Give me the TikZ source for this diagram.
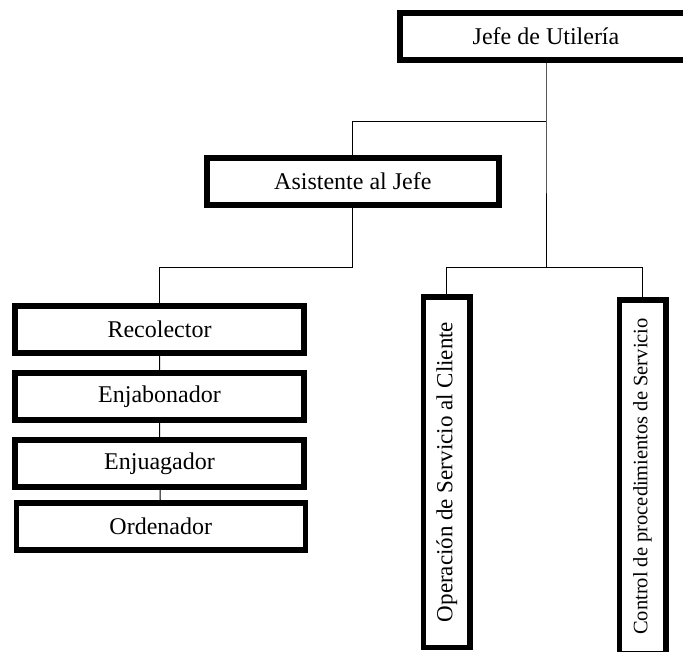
\documentclass[tikz,border=0pt]{standalone}
\usepackage{fontspec}
\setmainfont{Liberation Serif}
\usepackage{tikz}
\tikzset{
    box/.style={draw,line width=5.5pt,inner sep=0pt,minimum width=289pt,minimum height=47pt,
        font=\fontsize{24}{28}\selectfont},
    vbox/.style={draw,line width=5.5pt,inner sep=0pt,rotate=90,minimum height=46.5pt},
    wire/.style={line width=1pt}
}

\begin{document}
\begin{tikzpicture}[x=1pt,y=-1pt]
    \useasboundingbox (0,0) rectangle (683,651);
    \node[box,minimum width=292.5pt] at (546,36.25) (jefe) {Jefe de Utilería};
    \node[box,minimum width=292.2pt] at (352.85,181.65) (asist) {Asistente al Jefe};
    \node[box] at (159.5,329.7) (recol) {Recolector};
    \node[box] at (159.5,396.7) (enjab) {Enjabonador};
    \node[box] at (159.5,463.3) (enjua) {Enjuagador};
    \node[box] at (160.8,526.7) (orden) {Ordenador};
    \node[vbox,minimum width=350.5pt,font=\fontsize{23}{27}\selectfont] at (446.7,472) (opera) {Operación de Servicio al Cliente};
    \node[vbox,minimum width=353.5pt,font=\fontsize{20.5}{24}\selectfont] at (642.5,476.5) (contr) {Control de procedimientos de Servicio};
    \coordinate (b1) at (546,121);
    \coordinate (b2) at (546,267);
    \coordinate (b3) at (352.85,267);
    \draw[wire] (jefe) -- (b1) -- (b2);
    \draw[wire] (b1) -| (asist);
    \draw[wire] (b2) -| (opera);
    \draw[wire] (b2) -| (contr);
    \draw[wire] (asist) -- (b3) -| (recol);
    \draw[wire] (recol) -- (enjab) -- (enjua) -- (orden);
\end{tikzpicture}
\end{document}
